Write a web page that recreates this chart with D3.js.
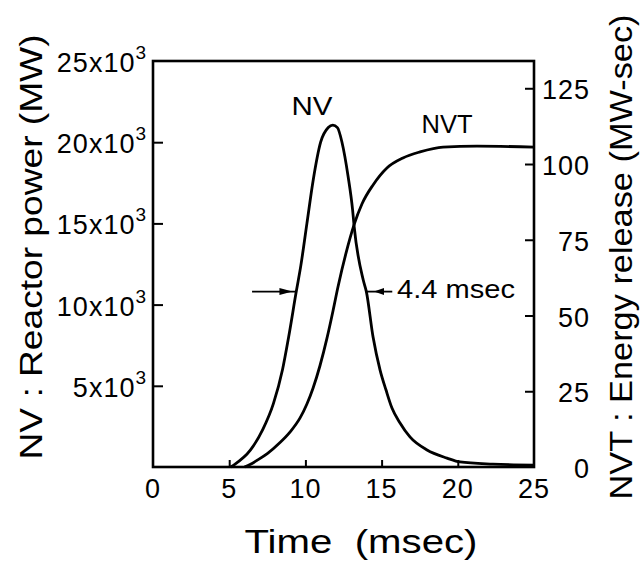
<!DOCTYPE html>
<html>
<head>
<meta charset="utf-8">
<script src="https://cdn.jsdelivr.net/npm/d3@7"></script>
<style>
  html, body { margin: 0; padding: 0; background: #fff; }
  svg { display: block; }
  text { font-family: "Liberation Sans", Arial, sans-serif; fill: #000; }
</style>
</head>
<body>
<svg id="chart" width="640" height="562"></svg>
<script>
// ---- data ----
// NV: reactor power, 10^3 MW, vs time (msec)
const nvTime  = [5.1, 5.3, 6.4, 7.2, 7.9, 8.5, 8.9, 9.4, 9.7, 10.1, 10.5, 11.0, 11.5, 11.8, 12.1, 12.4, 12.8, 13.1, 13.2, 13.8, 14.0, 14.44, 14.9, 15.29, 15.68, 16.21, 16.86, 17.98, 19.29, 20.14, 22.3, 25.0];
const nvPower = [0, 0.12, 1.05, 2.3, 3.9, 6.0, 8.0, 10.8, 12.4, 15.0, 17.6, 20.0, 20.9, 21.05, 20.9, 20.0, 17.9, 15.8, 14.8, 11.5, 10.8, 8.0, 5.97, 4.74, 3.63, 2.71, 1.85, 1.05, 0.55, 0.31, 0.18, 0.12];
// NVT: energy release, MW-sec, vs time (msec)
const nvtTime   = [6.0, 6.4, 6.8, 7.5, 8.3, 9.0, 9.65, 10.1, 10.5, 10.96, 11.42, 11.81, 12.14, 12.66, 13.19, 13.71, 14.44, 15.35, 16.4, 17.52, 19.03, 21.26, 25.0];
const nvtEnergy = [0, 0.9, 2.1, 4.4, 7.9, 11.6, 16.2, 20.8, 26.0, 33.5, 42.6, 51.5, 59.5, 70.5, 79.9, 86.8, 93.1, 98.7, 102.0, 104.0, 105.6, 105.9, 105.6];

const xTicks = [0, 5, 10, 15, 20, 25];
const leftTicks = [5, 10, 15, 20, 25];
const leftTickLabels = ["5x10", "10x10", "15x10", "20x10", "25x10"];
const leftTickExp = "3";
const rightTicks = [0, 25, 50, 75, 100, 125];
const rightTickLabels = ["0", "25", "50", "75", "100", "125"];
// half-width annotation (level in 10^3 MW, times in msec)
const fwhmLevel = 10.8;
const fwhmLeft = 9.15, fwhmRight = 13.95;
const fwhmText = "4.4 msec";

// ---- layout ----
const svg = d3.select("#chart");
const L = 153, R = 534, T = 61, B = 467;
const x = d3.scaleLinear().domain([0, 25]).range([L, R]);
const yL = d3.scaleLinear().domain([0, 25]).range([B, T]);
const yR = d3.scaleLinear().domain([0, 134]).range([B, T]);

svg.append("rect").attr("width", 640).attr("height", 562).attr("fill", "#fff");

// frame
svg.append("rect")
  .attr("x", L).attr("y", T).attr("width", R - L).attr("height", B - T)
  .attr("fill", "none").attr("stroke", "#000").attr("stroke-width", 2.6);

// ticks (inward)
const tickStyle = g => { g.select(".domain").remove(); g.selectAll("line").attr("stroke", "#000").attr("stroke-width", 2); g.selectAll("text").remove(); };
svg.append("g").attr("transform", `translate(${L},0)`)
  .call(d3.axisLeft(yL).tickValues([5, 10, 15, 20]).tickSize(-10).tickFormat(""))
  .call(tickStyle);
svg.append("g").attr("transform", `translate(0,${B})`)
  .call(d3.axisBottom(x).tickValues([5, 10, 15, 20]).tickSize(-7).tickFormat(""))
  .call(tickStyle);
svg.append("g").attr("transform", `translate(${R},0)`)
  .call(d3.axisRight(yR).tickValues([25, 50, 75, 100, 125]).tickSize(-9).tickFormat(""))
  .call(tickStyle);

// left tick labels
leftTicks.forEach((v, i) => {
  const t = svg.append("text")
    .attr("x", L - 6).attr("y", yL(v) + 11)
    .attr("text-anchor", "end").attr("font-size", 27).attr("letter-spacing", 1);
  t.append("tspan").text(leftTickLabels[i]);
  t.append("tspan").attr("font-size", 19).attr("dy", -13).text(leftTickExp);
});

// bottom tick labels
xTicks.forEach(v => {
  svg.append("text").attr("x", x(v)).attr("y", B + 31)
    .attr("text-anchor", "middle").attr("font-size", 27).attr("letter-spacing", 1).text(v);
});

// right tick labels
rightTicks.forEach((v, i) => {
  svg.append("text").attr("x", 590).attr("y", yR(v) + 11)
    .attr("text-anchor", "end").attr("font-size", 27).attr("letter-spacing", 1).text(rightTickLabels[i]);
});

// axis titles
svg.append("text")
  .attr("transform", "translate(42,247) rotate(-90)")
  .attr("text-anchor", "middle").attr("font-size", 32)
  .attr("textLength", 425).attr("lengthAdjust", "spacingAndGlyphs")
  .text("NV : Reactor power (MW)");
svg.append("text")
  .attr("transform", "translate(632,257) rotate(-90)")
  .attr("text-anchor", "middle").attr("font-size", 32)
  .attr("textLength", 485).attr("lengthAdjust", "spacingAndGlyphs")
  .text("NVT : Energy release (MW-sec)");
svg.append("text")
  .attr("x", 361).attr("y", 553)
  .attr("text-anchor", "middle").attr("font-size", 33)
  .attr("textLength", 233).attr("lengthAdjust", "spacingAndGlyphs")
  .style("white-space", "pre")
  .text("Time  (msec)");

// curves
const nvData = nvTime.map((t, i) => [t, nvPower[i]]);
const nvtData = nvtTime.map((t, i) => [t, nvtEnergy[i]]);
svg.append("path")
  .attr("d", d3.line().x(d => x(d[0])).y(d => yL(d[1])).curve(d3.curveMonotoneX)(nvData))
  .attr("fill", "none").attr("stroke", "#000").attr("stroke-width", 2.8).attr("stroke-linejoin", "round");
svg.append("path")
  .attr("d", d3.line().x(d => x(d[0])).y(d => yR(d[1])).curve(d3.curveMonotoneX)(nvtData))
  .attr("fill", "none").attr("stroke", "#000").attr("stroke-width", 2.8).attr("stroke-linejoin", "round");

// curve labels
svg.append("text").attr("x", x(10.43)).attr("y", yL(21.67))
  .attr("text-anchor", "middle").attr("font-size", 25)
  .attr("textLength", 41).attr("lengthAdjust", "spacingAndGlyphs").text("NV");
svg.append("text").attr("x", x(19.29)).attr("y", yL(20.55))
  .attr("text-anchor", "middle").attr("font-size", 25)
  .attr("textLength", 51).attr("lengthAdjust", "spacingAndGlyphs").text("NVT");

// FWHM arrows
const ay = yL(fwhmLevel);
svg.append("line").attr("x1", x(6.5)).attr("x2", x(fwhmLeft + 0.3)).attr("y1", ay).attr("y2", ay)
  .attr("stroke", "#000").attr("stroke-width", 1.8);
const lt = x(fwhmLeft);
svg.append("path").attr("d", `M${lt},${ay} L${lt - 13},${ay - 3.5} L${lt - 13},${ay + 3.5} Z`).attr("fill", "#000");
svg.append("line").attr("x1", x(fwhmRight)).attr("x2", x(15.7)).attr("y1", ay).attr("y2", ay)
  .attr("stroke", "#000").attr("stroke-width", 1.8);
const rt = x(14.5);
svg.append("path").attr("d", `M${rt},${ay} L${rt + 10},${ay - 3.5} L${rt + 10},${ay + 3.5} Z`).attr("fill", "#000");
svg.append("text").attr("x", x(16.01)).attr("y", ay + 6)
  .attr("font-size", 25).attr("textLength", 118).attr("lengthAdjust", "spacingAndGlyphs").text(fwhmText);
</script>
</body>
</html>
